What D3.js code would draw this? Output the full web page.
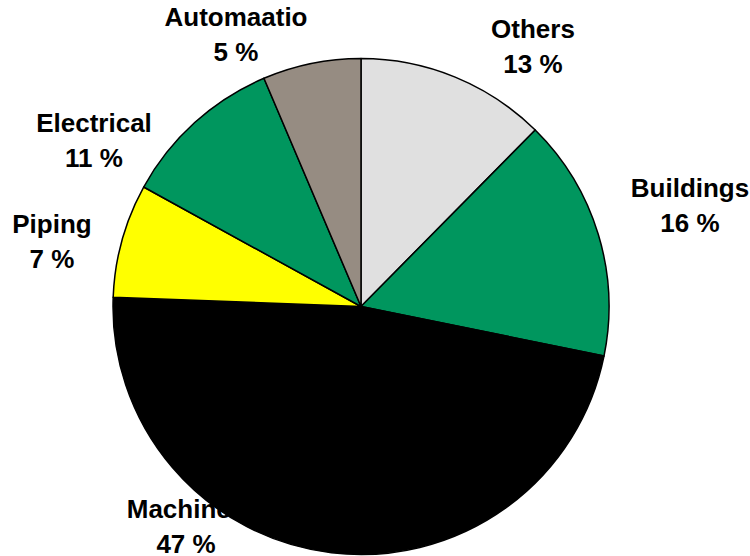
<!DOCTYPE html>
<html>
<head>
<meta charset="utf-8">
<script src="https://cdn.jsdelivr.net/npm/d3@7"></script>
<style>
  html, body { margin: 0; padding: 0; background: #ffffff; }
  svg { display: block; }
  text { font-family: "Liberation Sans", Arial, sans-serif; font-weight: bold; font-size: 26px; fill: #000; }
</style>
</head>
<body>
<svg id="chart" width="750" height="556"></svg>
<script>
// ---- data ----
const categories = ["Others", "Buildings", "Machines", "Piping", "Electrical", "Automaatio"];
const values = [12.4, 15.8, 47.4, 7.4, 10.6, 6.4];
const percentLabels = ["13 %", "16 %", "47 %", "7 %", "11 %", "5 %"];
const colors = ["#e0e0e0", "#00965e", "#000000", "#ffff00", "#00965e", "#968c82"];

// ---- layout ----
const width = 750, height = 556;
const cx = 361, cy = 306.5, radius = 248;
// label anchor offsets (relative to pie centre), first-line baseline
const labelOffsets = [[172, -268.5], [329, -109.5], [-175, 211], [-309, -73.5], [-267, -174.5], [-125, -280.5]];
const lineGap = 35;

const svg = d3.select("#chart");

const pie = d3.pie().sort(null).value(d => d.value).startAngle(0).endAngle(2 * Math.PI);
const arc = d3.arc().innerRadius(0).outerRadius(radius);

const data = categories.map((c, i) => ({ name: c, value: values[i], color: colors[i], pct: percentLabels[i], off: labelOffsets[i] }));
const arcs = pie(data);

// labels first (pie covers them where they overlap)
const lg = svg.append("g").attr("transform", `translate(${cx},${cy})`);
arcs.forEach(a => {
  const t = lg.append("text").attr("text-anchor", "middle");
  t.append("tspan").attr("x", a.data.off[0]).attr("y", a.data.off[1]).text(a.data.name);
  t.append("tspan").attr("x", a.data.off[0]).attr("y", a.data.off[1] + lineGap).text(a.data.pct);
});

const g = svg.append("g").attr("transform", `translate(${cx},${cy})`);
g.selectAll("path")
  .data(arcs)
  .join("path")
  .attr("d", arc)
  .attr("fill", d => d.data.color)
  .attr("stroke", "#000")
  .attr("stroke-width", 1.5)
  .attr("stroke-linejoin", "round");
</script>
</body>
</html>
